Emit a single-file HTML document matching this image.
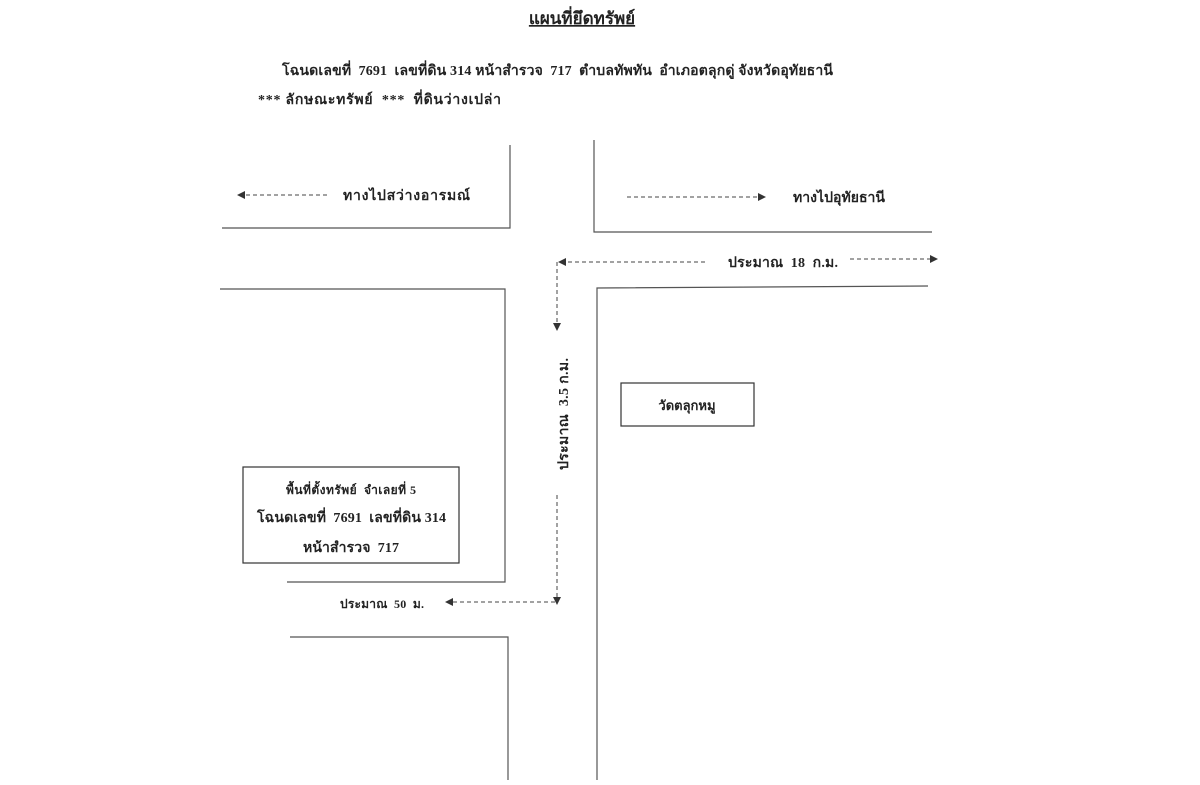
<!DOCTYPE html>
<html><head><meta charset="utf-8"><style>
html,body{margin:0;padding:0;background:#fff;}
svg text{font-family:"Liberation Serif","Noto Serif CJK SC",serif;fill:#222;white-space:pre;}
</style></head><body>
<svg width="1200" height="780" viewBox="0 0 1200 780" xmlns="http://www.w3.org/2000/svg">
<defs>
<marker id="a" markerWidth="8" markerHeight="8" refX="7" refY="4" orient="auto" markerUnits="userSpaceOnUse"><path d="M0,0 L8,4 L0,8 z" fill="#333"/></marker>
</defs>
<text x="582" y="24" font-size="17" text-anchor="middle" font-weight="bold" text-decoration="underline">แผนที่ยึดทรัพย์</text>
<text x="282" y="75" font-size="14" font-weight="bold" textLength="551" lengthAdjust="spacing">โฉนดเลขที่  7691  เลขที่ดิน 314 หน้าสำรวจ  717  ตำบลทัพทัน  อำเภอตลุกดู่ จังหวัดอุทัยธานี</text>
<text x="258" y="104" font-size="14" font-weight="bold" textLength="243" lengthAdjust="spacing">*** ลักษณะทรัพย์  ***  ที่ดินว่างเปล่า</text>
<g stroke="#555" stroke-width="1.2" fill="none">
<polyline points="510,145 510,228 222,228"/>
<polyline points="594,140 594,232 932,232"/>
<polyline points="220,289 505,289 505,582 287,582"/>
<polyline points="928,286 597,288 597,780"/>
<polyline points="290,637 508,637 508,780"/>
<rect x="243" y="467" width="216" height="96" stroke="#333"/>
<rect x="621" y="383" width="133" height="43" stroke="#333"/>
</g>
<g stroke="#444" stroke-width="1" fill="none" stroke-dasharray="4,3">
<line x1="327" y1="195" x2="238" y2="195" marker-end="url(#a)"/>
<line x1="627" y1="197" x2="765" y2="197" marker-end="url(#a)"/>
<line x1="705" y1="262" x2="559" y2="262" marker-end="url(#a)"/>
<line x1="850" y1="259" x2="937" y2="259" marker-end="url(#a)"/>
<line x1="557" y1="262" x2="557" y2="330" marker-end="url(#a)"/>
<line x1="557" y1="495" x2="557" y2="604" marker-end="url(#a)"/>
<line x1="555" y1="602" x2="446" y2="602" marker-end="url(#a)"/>
</g>
<text x="343" y="200" font-size="14" font-weight="bold" textLength="127" lengthAdjust="spacing">ทางไปสว่างอารมณ์</text>
<text x="793" y="202" font-size="14" font-weight="bold" textLength="92" lengthAdjust="spacing">ทางไปอุทัยธานี</text>
<text x="728" y="267" font-size="14" font-weight="bold" textLength="110" lengthAdjust="spacing">ประมาณ  18  ก.ม.</text>
<text transform="translate(568,470) rotate(-90)" font-size="14" font-weight="bold" textLength="112" lengthAdjust="spacing">ประมาณ  3.5 ก.ม.</text>
<text x="340" y="608" font-size="12" font-weight="bold" textLength="84" lengthAdjust="spacing">ประมาณ  50  ม.</text>
<text x="687" y="410" font-size="13" font-weight="bold" text-anchor="middle">วัดตลุกหมู</text>
<text x="286" y="494" font-size="12" font-weight="bold" textLength="130" lengthAdjust="spacing">พื้นที่ตั้งทรัพย์  จำเลยที่ 5</text>
<text x="257" y="522" font-size="14" font-weight="bold" textLength="189" lengthAdjust="spacing">โฉนดเลขที่  7691  เลขที่ดิน 314</text>
<text x="303" y="552" font-size="14" font-weight="bold" textLength="96" lengthAdjust="spacing">หน้าสำรวจ  717</text>
</svg>
</body></html>
